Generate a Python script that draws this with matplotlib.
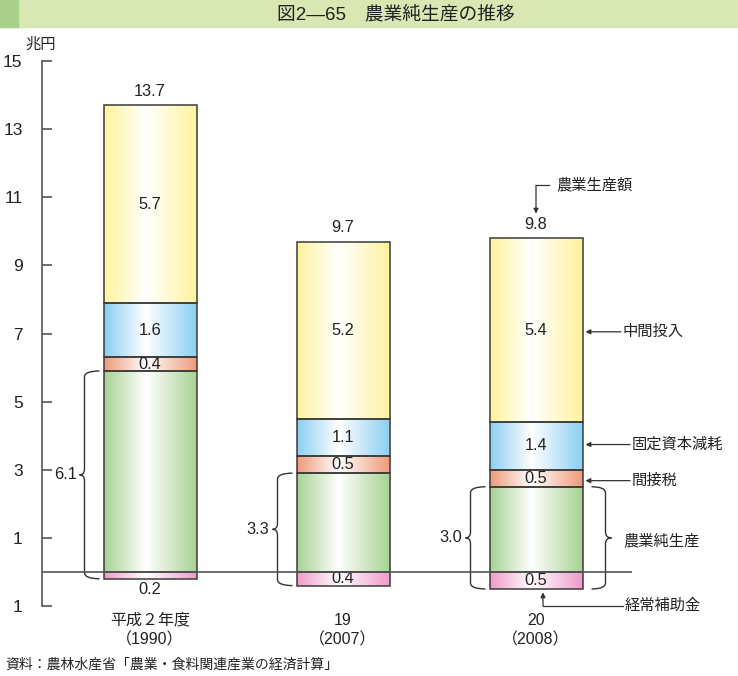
import matplotlib
matplotlib.use('Agg')
import matplotlib.pyplot as plt
import numpy as np
from matplotlib.colors import LinearSegmentedColormap
from matplotlib.patches import Rectangle, PathPatch
from matplotlib.path import Path

plt.rcParams['font.family'] = ['Liberation Sans', 'Noto Sans CJK JP', 'DejaVu Sans']

# data (兆円)
years = ['平成２年度', '19', '20']
years_ad = ['（1990）', '（2007）', '（2008）']
subsidy = [0.2, 0.4, 0.5]          # 経常補助金
net_prod = [6.1, 3.3, 3.0]         # 農業純生産
indirect_tax = [0.4, 0.5, 0.5]     # 間接税
depreciation = [1.6, 1.1, 1.4]     # 固定資本減耗
intermediate = [5.7, 5.2, 5.4]     # 中間投入
gross = [13.7, 9.7, 9.8]           # 農業生産額

# colours of the gradient bars (edge colour, fading to white in the middle)
c_yellow = '#fff39c'
c_blue = '#8ccff2'
c_orange = '#ee9b7a'
c_green = '#a8d293'
c_pink = '#ee9cc8'
edge = '#3a3a3a'

# pixel scale of the data axes (used for small offsets)
XPX = 193.0
YPX = 34.0
NUM_FS = 11.8

fig = plt.figure(figsize=(7.38, 6.76), dpi=100)
ax = fig.add_axes([42 / 738, 70 / 676, 590 / 738, 545 / 676])
ax.set_xlim(-108 / XPX, 482 / XPX)
ax.set_ylim(-1, 15)

# title band
fig.patches.append(Rectangle((0, 1 - 27 / 676), 1, 27 / 676, transform=fig.transFigure,
                             color='#d9e7b3', zorder=0))
fig.patches.append(Rectangle((0, 1 - 27 / 676), 18 / 738, 27 / 676, transform=fig.transFigure,
                             color='#a8d08b', zorder=1))
fig.text(396 / 738, 1 - 14 / 676, '図2—65　農業純生産の推移', ha='center', va='center',
         fontsize=13.5, color='#222')
fig.text(25 / 738, 1 - 45 / 676, '兆円', ha='left', va='center', fontsize=11, color='#222')
fig.text(5 / 738, 1 - 665 / 676, '資料：農林水産省「農業・食料関連産業の経済計算」',
         ha='left', va='center', fontsize=10, color='#222')

width = 93 / XPX


def grad_bar(x, y0, y1, color):
    cmap = LinearSegmentedColormap.from_list('g', [(0, color), (0.45, '#ffffff'), (1, color)])
    img = np.linspace(0, 1, 200).reshape(1, -1)
    ax.imshow(img, cmap=cmap, extent=(x - width / 2, x + width / 2, y0, y1),
              aspect='auto', zorder=2, interpolation='bilinear')
    ax.add_patch(Rectangle((x - width / 2, y0), width, y1 - y0, fill=False,
                           edgecolor=edge, lw=1.1, zorder=3))


def brace(x_end, y0, y1, side='left', depth=15, tip=5, r=6):
    # curly brace drawn as quadratic curves; sizes in pixels
    s = -1 if side == 'left' else 1
    xe = x_end
    xs = x_end + s * depth / XPX
    xt = xs + s * tip / XPX
    ry = r / YPX
    ym = (y0 + y1) / 2
    verts = [(xe, y1), (xs, y1), (xs, y1 - ry),
             (xs, ym + ry), (xs, ym), (xt, ym),
             (xs, ym), (xs, ym - ry),
             (xs, y0 + ry), (xs, y0), (xe, y0)]
    codes = [Path.MOVETO, Path.CURVE3, Path.CURVE3,
             Path.LINETO, Path.CURVE3, Path.CURVE3,
             Path.CURVE3, Path.CURVE3,
             Path.LINETO, Path.CURVE3, Path.CURVE3]
    ax.add_patch(PathPatch(Path(verts, codes), fill=False, edgecolor='#333', lw=1.0,
                           clip_on=False, zorder=4))
    return xt


for i in range(len(years)):
    green = net_prod[i] - subsidy[i]
    b0 = -subsidy[i]
    b1 = green
    b2 = b1 + indirect_tax[i]
    b3 = b2 + depreciation[i]
    b4 = gross[i]
    grad_bar(i, b0, 0, c_pink)
    grad_bar(i, 0, b1, c_green)
    grad_bar(i, b1, b2, c_orange)
    grad_bar(i, b2, b3, c_blue)
    grad_bar(i, b3, b4, c_yellow)

    kw = dict(ha='center', va='center', fontsize=NUM_FS, color='#222', zorder=5)
    ax.text(i, (b1 + b2) / 2, f'{indirect_tax[i]:.1f}', **kw)
    ax.text(i, (b2 + b3) / 2, f'{depreciation[i]:.1f}', **kw)
    ax.text(i, (b3 + b4) / 2, f'{intermediate[i]:.1f}', **kw)
    ax.text(i, b4 + 0.4, f'{gross[i]:.1f}', **kw)
    if subsidy[i] < 0.3:
        ax.text(i, b0 - 0.33, f'{subsidy[i]:.1f}', **kw)
    else:
        ax.text(i, b0 / 2, f'{subsidy[i]:.1f}', **kw)

    # left brace with net production value
    xt = brace(i - width / 2 - 4 / XPX, b0, b1, 'left')
    ax.text(xt - 3 / XPX, (b0 + b1) / 2, f'{net_prod[i]:.1f}', ha='right', va='center',
            fontsize=NUM_FS, color='#222')

    ax.text(i, -1.42, years[i], ha='center', va='center', fontsize=11.5, color='#222')
    ax.text(i, -2.0, years_ad[i], ha='center', va='center', fontsize=11.5, color='#222')

# zero line over the bars
ax.axhline(0, color='#555', lw=1.2, zorder=6)

# right-hand annotations on the last bar
k = len(years) - 1
lk = dict(ha='left', va='center', fontsize=11, color='#222')
ak = dict(arrowstyle='-|>', color='#333', lw=0.9, mutation_scale=7, shrinkA=0, shrinkB=0)
tip_x = k + width / 2 + 3 / XPX
b1 = net_prod[k] - subsidy[k]
b2 = b1 + indirect_tax[k]
b3 = b2 + depreciation[k]
for label, y, start in [('中間投入', (b3 + gross[k]) / 2 - 0.05, 621),
                        ('固定資本減耗', (b2 + b3) / 2 + 0.04, 630),
                        ('間接税', (b1 + b2) / 2 - 0.07, 630)]:
    sx = (start - 150) / XPX
    ax.annotate('', xy=(tip_x, y), xytext=(sx, y), arrowprops=ak, annotation_clip=False)
    ax.text(sx + 2 / XPX, y, label, **lk)

# 農業生産額 elbow arrow
cy = gross[k] + 1.55
ax.plot([k, k + 13 / XPX], [cy, cy], color='#333', lw=0.9, clip_on=False)
ax.annotate('', xy=(k, gross[k] + 0.72), xytext=(k, cy), arrowprops=ak, annotation_clip=False)
ax.text(k + 20 / XPX, cy, '農業生産額', **lk)

# 経常補助金 elbow arrow
ex = k + 7 / XPX
ey = -1.0
ax.plot([ex, (623 - 150) / XPX], [ey, ey], color='#333', lw=0.9, clip_on=False)
ax.annotate('', xy=(ex, -subsidy[k] - 0.1), xytext=(ex, ey), arrowprops=ak,
            annotation_clip=False)
ax.text((625 - 150) / XPX, ey, '経常補助金', **lk)

# right brace for 農業純生産
xt = brace(k + width / 2 + 9 / XPX, -subsidy[k], b1, 'right', depth=14, tip=6)
ax.text((623 - 150) / XPX, 0.9, '農業純生産', **lk)

# axes styling
for s in ['top', 'right', 'bottom']:
    ax.spines[s].set_visible(False)
ax.spines['left'].set_color('#555')
ax.spines['left'].set_linewidth(1.2)
ax.spines['left'].set_bounds(-1, 15)
ticks = [-1, 1, 3, 5, 7, 9, 11, 13, 15]
ax.set_yticks(ticks)
ax.set_yticklabels([str(abs(t)) for t in ticks])
ax.tick_params(axis='y', direction='in', length=7, width=1.2, color='#555',
               labelsize=12.5, labelcolor='#222', pad=14)
ax.set_xticks([])
ax.patch.set_alpha(0)

fig.savefig('out.png', dpi=100)
